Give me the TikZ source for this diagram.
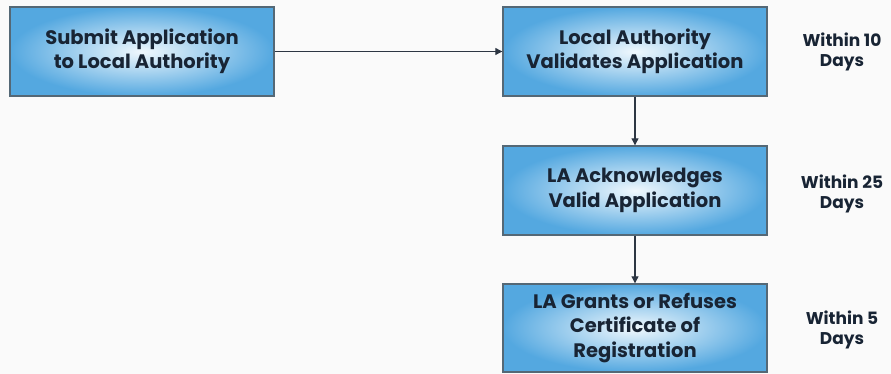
\documentclass[tikz,border=0pt]{standalone}
\usepackage{fontspec}
\setmainfont{Poppins}
\usetikzlibrary{arrows.meta,shadings}

\definecolor{boxblue}{RGB}{84,168,224}
\definecolor{boxlight}{RGB}{240,248,253}
\definecolor{boxedge}{RGB}{84,104,118}
\definecolor{textnavy}{RGB}{24,36,52}
\definecolor{paper}{RGB}{250,250,250}

\tikzset{
  stagebox/.style={draw=boxedge, line width=1.4pt, inner color=boxlight, outer color=boxblue,
    minimum width=264pt, minimum height=89pt, align=center, text=textnavy,
    font=\fontsize{19.5}{24.5}\selectfont\bfseries},
  daylabel/.style={align=center, text=textnavy, font=\fontsize{17}{20}\selectfont\bfseries},
  flow/.style={draw=textnavy!80!gray, line width=1.1pt, -{Triangle[length=7pt,width=7pt]}}
}

\begin{document}
\begin{tikzpicture}[x=1pt,y=-1pt]
  % page
  \fill[paper] (0,0) rectangle (891,374);
  \useasboundingbox (0,0) rectangle (891,374);

  % Drawing the stage boxes
  \node[stagebox] (submit) at (142,51.5) {Submit Application\\to Local Authority};
  \node[stagebox] (validate) at (635,51.5) {Local Authority\\Validates Application};
  \node[stagebox] (acknow) at (635,190.5) {LA Acknowledges\\Valid Application};
  \node[stagebox, minimum height=88pt] (grant) at (635,328) {LA Grants or Refuses\\Certificate of\\Registration};

  % Marking the time limits
  \node[daylabel] (days10) at (842,51.5) {Within 10\\Days};
  \node[daylabel] (days25) at (842,194) {Within 25\\Days};
  \node[daylabel] (days5) at (842,330) {Within 5\\Days};

  % Drawing the connectors
  \draw[flow] (submit) -- (validate);
  \draw[flow] (validate) -- (acknow);
  \draw[flow] (acknow) -- (grant);
\end{tikzpicture}
\end{document}
